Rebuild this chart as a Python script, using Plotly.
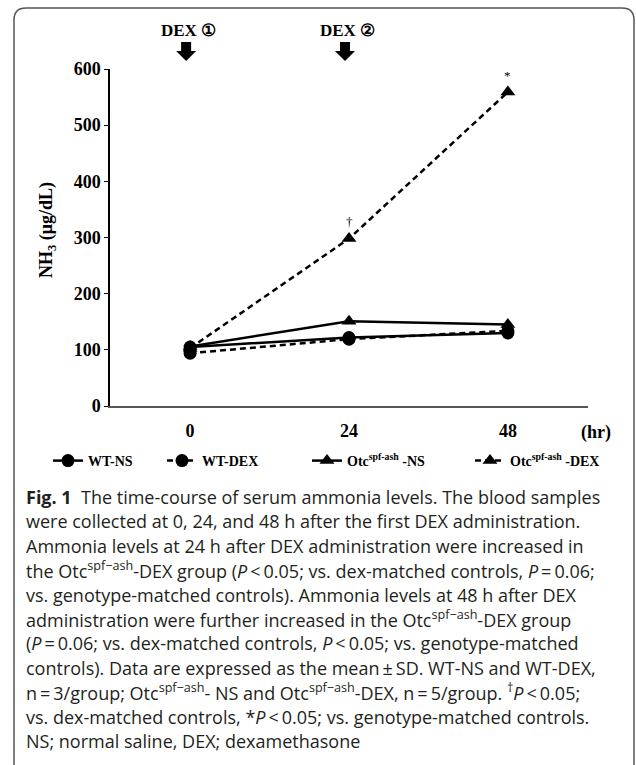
import plotly.graph_objects as go

# ---- data ----
hours = [0, 24, 48]
series_names = ["WT-NS", "WT-DEX", "Otc<sup>spf-ash</sup> -NS", "Otc<sup>spf-ash</sup> -DEX"]
wt_ns = [105, 122, 130]
wt_dex = [94, 119, 134]
otc_ns = [106, 151, 145]
otc_dex = [103, 298, 559]
y_ticks = [0, 100, 200, 300, 400, 500, 600]
x_ticks = [0, 24, 48]
dex_times = [0, 24]
dex_labels = ["DEX ①", "DEX ②"]
sig_marks = [(24, otc_dex[1], "†"), (48, otc_dex[2], "*")]

TS = "\u2009"  # thin space
caption_lines = [
    "<b>Fig. 1</b>&nbsp;&nbsp;The time-course of serum ammonia levels. The blood samples",
    "were collected at 0, 24, and 48 h after the first DEX administration.",
    "Ammonia levels at 24 h after DEX administration were increased in",
    f"the Otc<sup>spf−ash</sup>-DEX group (<i>P</i>{TS}&lt;{TS}0.05; vs. dex-matched controls, <i>P</i>{TS}={TS}0.06;",
    "vs. genotype-matched controls). Ammonia levels at 48 h after DEX",
    "administration were further increased in the Otc<sup>spf−ash</sup>-DEX group",
    f"(<i>P</i>{TS}={TS}0.06; vs. dex-matched controls, <i>P</i>{TS}&lt;{TS}0.05; vs. genotype-matched",
    f"controls). Data are expressed as the mean{TS}±{TS}SD. WT-NS and WT-DEX,",
    f"n{TS}={TS}3/group; Otc<sup>spf−ash</sup>- NS and Otc<sup>spf−ash</sup>-DEX, n{TS}={TS}5/group. <sup>†</sup><i>P</i>{TS}&lt;{TS}0.05;",
    f"vs. dex-matched controls, *<i>P</i>{TS}&lt;{TS}0.05; vs. genotype-matched controls.",
    "NS; normal saline, DEX; dexamethasone",
]

# ---- layout geometry (pixels) ----
W, H = 636, 765
L, R, T, B = 110, 48, 69, 359
PW, PH = W - L - R, H - T - B


def xp(px):
    return (px - L) / PW


def yp(py):
    return (H - B - py) / PH


SERIF = "Liberation Serif"
SANS = "Open Sans"

fig = go.Figure()
styles = [
    dict(dash="solid", symbol="circle"),
    dict(dash="6px,4px", symbol="circle"),
    dict(dash="solid", symbol="triangle-up"),
    dict(dash="6px,4px", symbol="triangle-up"),
]
legend_ids = ["legend", "legend2", "legend3", "legend4"]
legend_text_x = [90, 204, 349, 512]
for name, vals, st, lid in zip(series_names, [wt_ns, wt_dex, otc_ns, otc_dex], styles, legend_ids):
    fig.add_trace(go.Scatter(
        x=hours, y=vals, name=name, mode="lines+markers", legend=lid,
        line=dict(color="black", width=2.5, dash=st["dash"]),
        marker=dict(color="black", size=13, symbol=st["symbol"]),
    ))

annotations = []
for xv, yv, s in sig_marks:
    annotations.append(dict(x=xv, y=yv, xref="x", yref="y", text=s, showarrow=False,
                            xanchor="center", yanchor="middle",
                            yshift=17, font=dict(family=SERIF, size=13, color="black")))

shapes = []
for t, lab in zip(dex_times, dex_labels):
    annotations.append(dict(x=t, y=1, xref="x", yref="paper", text=lab,
                            xanchor="center", yanchor="middle",
                            showarrow=False, yshift=39, xshift=-2,
                            font=dict(family=SERIF, size=17, color="black", weight="bold")))
    # block down arrow
    shapes.append(dict(type="path", xref="x", yref="paper", xsizemode="pixel", ysizemode="pixel",
                       xanchor=t, yanchor=1,
                       path="M -9,27 L 1,27 L 1,18 L 6,18 L -4,8 L -14,18 L -9,18 Z",
                       fillcolor="black", line=dict(width=0)))

# y-axis title
annotations.append(dict(x=xp(48), y=yp(230), xref="paper", yref="paper",
                        xanchor="center", yanchor="middle",
                        text="NH<sub>3</sub> (μg/dL)", textangle=-90, showarrow=False,
                        font=dict(family=SERIF, size=18, color="black", weight="bold")))
# x-axis unit
annotations.append(dict(x=xp(596), y=yp(432), xref="paper", yref="paper", text="(hr)",
                        xanchor="center", yanchor="middle",
                        showarrow=False, font=dict(family=SERIF, size=18, color="black", weight="bold")))

# caption
for i, line in enumerate(caption_lines):
    annotations.append(dict(x=xp(24), y=yp(497 + i * 24.4), xref="paper", yref="paper",
                            xanchor="left", yanchor="middle", text=line, showarrow=False,
                            align="left", font=dict(family=SANS, size=18, color="#231f20")))

# frame (rounded top corners)
fx0, fx1, fy0 = 14, 634, 8
r = 12
frame_path = (f"M {xp(fx0)},{yp(H + 20)} L {xp(fx0)},{yp(fy0 + r)} "
              f"Q {xp(fx0)},{yp(fy0)} {xp(fx0 + r)},{yp(fy0)} "
              f"L {xp(fx1 - r)},{yp(fy0)} Q {xp(fx1)},{yp(fy0)} {xp(fx1)},{yp(fy0 + r)} "
              f"L {xp(fx1)},{yp(H + 20)}")
shapes.append(dict(type="path", xref="paper", yref="paper", path=frame_path,
                   line=dict(color="#555555", width=1.5)))

legend_common = dict(orientation="h", xanchor="left", yanchor="middle",
                     font=dict(family=SERIF, size=14, color="black", weight="bold"),
                     bgcolor="rgba(0,0,0,0)", borderwidth=0)
legends = {}
for lid, tx in zip(legend_ids, legend_text_x):
    legends[lid] = dict(legend_common, x=xp(tx - 42), y=yp(461))

fig.update_layout(
    width=W, height=H,
    margin=dict(l=L, r=R, t=T, b=B, pad=0),
    paper_bgcolor="white", plot_bgcolor="white",
    showlegend=True,
    xaxis=dict(range=[-12.1, 60.1], tickvals=x_ticks, ticks="", showgrid=False, zeroline=False,
               showline=True, linecolor="#555555", linewidth=1.5,
               tickfont=dict(family=SERIF, size=18, color="black", weight="bold"), ticklabelstandoff=8),
    yaxis=dict(range=[0, 600], tickvals=y_ticks, ticks="outside", ticklen=4, tickcolor="black",
               showgrid=False, zeroline=False, showline=True, linecolor="black", linewidth=1.5,
               tickfont=dict(family=SERIF, size=18, color="black", weight="bold")),
    annotations=annotations, shapes=shapes,
    **legends,
)

fig.write_html("out.html")
